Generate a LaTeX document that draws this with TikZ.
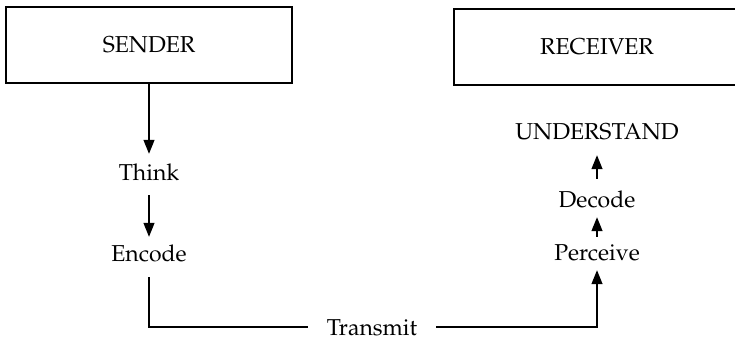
\documentclass[tikz,border=0pt]{standalone}
\usepackage[T1]{fontenc}
\usepackage{mathpazo}
\usetikzlibrary{arrows.meta}
\tikzset{
  box/.style={draw, line width=1.5pt, minimum width=286pt, minimum height=76pt,
              inner sep=0pt, font=\fontsize{23}{27}\selectfont},
  label/.style={inner sep=0pt, text height=16pt, text depth=0pt,
                font=\fontsize{23}{27}\selectfont},
  flow/.style={line width=1.3pt, -{Triangle[length=14pt,width=11pt]}},
  wire/.style={line width=1.3pt}
}
\begin{document}
\begin{tikzpicture}[x=1pt,y=-1pt]
  \useasboundingbox (0,0) rectangle (735,340);
  \begin{scope}
    \clip (0,0) rectangle (735,340);
    % the two parties
    \node[box] (sender)   at (149,45) {SENDER};
    \node[box] (receiver) at (597,47) {RECEIVER};
  \end{scope}

  % sender side
  \node[label] (think)  at (149,172) {Think};
  \node[label] (encode) at (149,253) {Encode};

  % receiver side
  \node[label] (understand) at (597,131) {UNDERSTAND};
  \node[label] (decode)     at (597,199) {Decode};
  \node[label] (perceive)   at (597,252) {Perceive};

  % channel
  \node[label] (transmit) at (372,327) {Transmit};

  \draw[flow, shorten >=10pt] (sender.south) -- (think.north);
  \draw[flow, shorten <=15pt, shorten >=8pt] (think.south) -- (encode.north);

  \draw[wire, shorten <=16pt, shorten >=19pt] (encode.south) |- (transmit.west);
  \draw[flow, shorten <=19pt, shorten >=10pt] (transmit.east) -| (perceive.south);

  \draw[flow, shorten <=7pt, shorten >=10pt] (perceive.north) -- (decode.south);
  \draw[flow, shorten <=12pt, shorten >=16pt] (decode.north) -- (understand.south);
\end{tikzpicture}
\end{document}
